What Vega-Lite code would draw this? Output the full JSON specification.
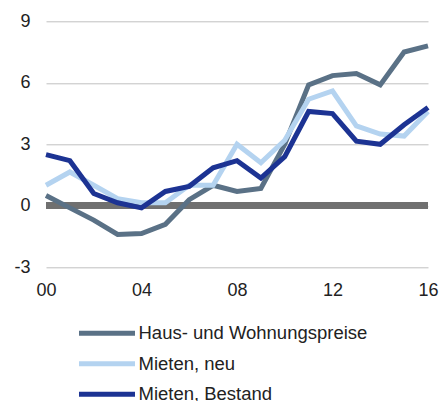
{
  "$schema": "https://vega.github.io/schema/vega-lite/v6.json",
  "width": 382,
  "height": 246,
  "autosize": {"type": "none"},
  "padding": {"left": 46, "top": 21.3, "right": 13, "bottom": 134},
  "background": "white",
  "config": {
    "view": {"stroke": null},
    "font": "Liberation Sans",
    "axis": {"labelFont": "Liberation Sans", "labelColor": "#222222", "labelFontSize": 18},
    "legend": {"labelFont": "Liberation Sans"}
  },
  "data": {
    "values": [
      {"year": 2000, "series": "Haus- und Wohnungspreise", "v": 0.5},
      {"year": 2001, "series": "Haus- und Wohnungspreise", "v": -0.1},
      {"year": 2002, "series": "Haus- und Wohnungspreise", "v": -0.7},
      {"year": 2003, "series": "Haus- und Wohnungspreise", "v": -1.4},
      {"year": 2004, "series": "Haus- und Wohnungspreise", "v": -1.35},
      {"year": 2005, "series": "Haus- und Wohnungspreise", "v": -0.9},
      {"year": 2006, "series": "Haus- und Wohnungspreise", "v": 0.3},
      {"year": 2007, "series": "Haus- und Wohnungspreise", "v": 1.0},
      {"year": 2008, "series": "Haus- und Wohnungspreise", "v": 0.7},
      {"year": 2009, "series": "Haus- und Wohnungspreise", "v": 0.85},
      {"year": 2010, "series": "Haus- und Wohnungspreise", "v": 3.0},
      {"year": 2011, "series": "Haus- und Wohnungspreise", "v": 5.9},
      {"year": 2012, "series": "Haus- und Wohnungspreise", "v": 6.35},
      {"year": 2013, "series": "Haus- und Wohnungspreise", "v": 6.45},
      {"year": 2014, "series": "Haus- und Wohnungspreise", "v": 5.9},
      {"year": 2015, "series": "Haus- und Wohnungspreise", "v": 7.5},
      {"year": 2016, "series": "Haus- und Wohnungspreise", "v": 7.8},
      {"year": 2000, "series": "Mieten, neu", "v": 1.0},
      {"year": 2001, "series": "Mieten, neu", "v": 1.65},
      {"year": 2002, "series": "Mieten, neu", "v": 1.0},
      {"year": 2003, "series": "Mieten, neu", "v": 0.35},
      {"year": 2004, "series": "Mieten, neu", "v": 0.15},
      {"year": 2005, "series": "Mieten, neu", "v": 0.15},
      {"year": 2006, "series": "Mieten, neu", "v": 1.0},
      {"year": 2007, "series": "Mieten, neu", "v": 1.0},
      {"year": 2008, "series": "Mieten, neu", "v": 3.0},
      {"year": 2009, "series": "Mieten, neu", "v": 2.1},
      {"year": 2010, "series": "Mieten, neu", "v": 3.2},
      {"year": 2011, "series": "Mieten, neu", "v": 5.2},
      {"year": 2012, "series": "Mieten, neu", "v": 5.6},
      {"year": 2013, "series": "Mieten, neu", "v": 3.9},
      {"year": 2014, "series": "Mieten, neu", "v": 3.5},
      {"year": 2015, "series": "Mieten, neu", "v": 3.4},
      {"year": 2016, "series": "Mieten, neu", "v": 4.6},
      {"year": 2000, "series": "Mieten, Bestand", "v": 2.5},
      {"year": 2001, "series": "Mieten, Bestand", "v": 2.2},
      {"year": 2002, "series": "Mieten, Bestand", "v": 0.6},
      {"year": 2003, "series": "Mieten, Bestand", "v": 0.15},
      {"year": 2004, "series": "Mieten, Bestand", "v": -0.1},
      {"year": 2005, "series": "Mieten, Bestand", "v": 0.7},
      {"year": 2006, "series": "Mieten, Bestand", "v": 0.95},
      {"year": 2007, "series": "Mieten, Bestand", "v": 1.85},
      {"year": 2008, "series": "Mieten, Bestand", "v": 2.2},
      {"year": 2009, "series": "Mieten, Bestand", "v": 1.35},
      {"year": 2010, "series": "Mieten, Bestand", "v": 2.4},
      {"year": 2011, "series": "Mieten, Bestand", "v": 4.6},
      {"year": 2012, "series": "Mieten, Bestand", "v": 4.5},
      {"year": 2013, "series": "Mieten, Bestand", "v": 3.15},
      {"year": 2014, "series": "Mieten, Bestand", "v": 3.0},
      {"year": 2015, "series": "Mieten, Bestand", "v": 3.95},
      {"year": 2016, "series": "Mieten, Bestand", "v": 4.8}
    ]
  },
  "layer": [
    {
      "mark": {"type": "rule", "color": "#707070", "strokeWidth": 6},
      "encoding": {"y": {"datum": 0, "type": "quantitative", "scale": {"domain": [-3, 9]}}}
    },
    {
      "mark": {"type": "line", "strokeWidth": 5, "strokeJoin": "miter", "strokeCap": "butt"},
      "encoding": {
        "x": {
          "field": "year", "type": "quantitative",
          "scale": {"domain": [2000, 2016], "nice": false, "zero": false},
          "axis": {
            "title": null, "values": [2000, 2004, 2008, 2012, 2016],
            "labelExpr": "substring(toString(datum.value), 2)",
            "grid": false, "domain": false, "ticks": false, "labelPadding": 14,
            "labelFlush": false
          }
        },
        "y": {
          "field": "v", "type": "quantitative",
          "scale": {"domain": [-3, 9], "nice": false},
          "axis": {
            "title": null, "values": [-3, 0, 3, 6, 9],
            "labelExpr": "toString(datum.value)",
            "grid": true, "gridColor": "#c0c0c0", "gridWidth": 1,
            "domain": false, "ticks": false, "labelPadding": 16
          }
        },
        "color": {
          "field": "series", "type": "nominal",
          "scale": {
            "domain": ["Haus- und Wohnungspreise", "Mieten, neu", "Mieten, Bestand"],
            "range": ["#5a7186", "#b4d3f0", "#1c3393"]
          },
          "legend": {
            "title": null, "orient": "none", "legendX": 30.5, "legendY": 295.4,
            "direction": "vertical", "symbolType": "M-1,0H3", "symbolSize": 784,
            "symbolStrokeWidth": 5, "labelFontSize": 18.5, "labelColor": "#222222",
            "labelOffset": 29, "rowPadding": 3.5, "labelLimit": 400
          }
        }
      }
    }
  ]
}
